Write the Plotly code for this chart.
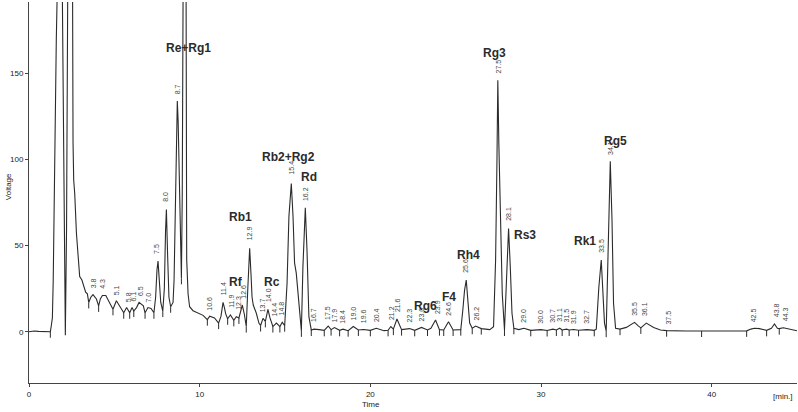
import plotly.graph_objects as go

# ---- chromatogram trace ----
time_min = [0.00, 0.30, 0.55, 0.80, 1.20, 1.25, 1.30, 1.37, 1.42, 1.50, 1.60, 1.66, 1.80, 1.95, 2.02, 2.09, 2.13,
            2.20, 2.27, 2.40, 2.52, 2.58, 2.62, 2.68, 2.78, 2.87, 2.97, 3.10, 3.22, 3.32, 3.42, 3.50, 3.62, 3.75,
            3.95, 4.08, 4.18, 4.30, 4.50, 4.72, 4.92, 5.12, 5.32, 5.55, 5.72, 5.90, 6.04, 6.14, 6.30, 6.45, 6.70,
            6.80, 6.97, 7.15, 7.32, 7.42, 7.50, 7.56, 7.62, 7.72, 7.84, 7.93, 8.00, 8.05, 8.12, 8.20, 8.30, 8.44,
            8.50, 8.58, 8.65, 8.69, 8.74, 8.80, 8.87, 8.93, 8.98, 9.03, 9.11, 9.19, 9.24, 9.32, 9.41, 9.61, 9.90,
            10.20, 10.45, 10.59, 10.87, 11.11, 11.25, 11.37, 11.45, 11.52, 11.64, 11.80, 12.00, 12.15, 12.30, 12.50,
            12.62, 12.73, 12.82, 12.93, 13.00, 13.07, 13.14, 13.32, 13.47, 13.57, 13.71, 13.85, 14.00, 14.12, 14.29,
            14.50, 14.70, 14.84, 14.98, 15.12, 15.23, 15.37, 15.47, 15.56, 15.66, 15.82, 15.96, 16.05, 16.19, 16.29,
            16.40, 16.54, 16.70, 17.00, 17.30, 17.53, 17.70, 17.90, 18.20, 18.40, 18.70, 19.00, 19.30, 19.60, 20.00,
            20.35, 20.80, 21.04, 21.20, 21.35, 21.56, 21.83, 22.30, 22.60, 23.00, 23.35, 23.55, 23.82, 24.05, 24.30,
            24.58, 24.85, 25.30, 25.42, 25.52, 25.62, 25.72, 25.82, 25.97, 26.17, 26.50, 27.00, 27.22, 27.34, 27.42,
            27.47, 27.53, 27.62, 27.73, 27.86, 27.97, 28.10, 28.20, 28.30, 28.41, 28.70, 29.00, 29.40, 30.00, 30.36,
            30.70, 30.90, 31.10, 31.24, 31.50, 31.65, 31.90, 32.20, 32.70, 33.12, 33.24, 33.39, 33.53, 33.63, 33.72,
            33.82, 33.92, 34.06, 34.16, 34.25, 34.37, 34.63, 35.00, 35.25, 35.48, 35.68, 35.85, 36.17, 36.60, 37.00,
            37.36, 38.50, 39.41, 41.00, 42.05, 42.30, 42.51, 42.80, 43.22, 43.50, 43.68, 43.85, 43.96, 44.20, 44.55,
            45.00]
voltage = [0.0, 0.4, 0.2, 0.0, 0.0, 0.0, 3, 8, 30, 100, 170, 200, 600, 200, 100, 20, -2,
           60, 200, 700, 200, 110, 88, 80, 57, 42, 32, 30, 26, 23, 22, 17, 20, 21.5,
           19, 15, 19, 21, 21, 17, 13, 18, 15, 11, 14, 11, 14, 12, 14, 17, 15,
           11, 14, 13.5, 11, 20, 36, 41, 32, 17, 12, 25, 58, 71, 45, 20, 14.5, 17,
           30, 75, 125, 134, 122, 85, 45, 31, 80, 200, 600, 200, 42, 22, 14.5, 12.2, 11,
           9.5, 7, 9, 8, 5, 9, 17, 14, 10.5, 7.5, 9.7, 6.6, 8.7, 8, 15.5,
           10, 3, 25, 48.5, 35, 20, 15.5, 10.7, 5, 3.6, 7.7, 6, 13, 8, 3,
           5, 3, 5.5, 3.5, 28, 67, 86, 67, 40, 34, 18.4, 0.5, 37.7, 72, 47,
           8.7, 1, 1.5, 1.2, 0.8, 3.3, 1.2, 2.4, 0.8, 1.5, 0.6, 3, 1, 1.3, 0.8,
           2, 0.6, 0.8, 3, 1.5, 7.4, 1.2, 1.8, 0.8, 2.5, 1, 2, 6.8, 1.2, 1,
           5.8, 1, 1.2, 12.6, 24, 30, 18.4, 5, 2, 3.3, 1.8, 1.2, 2.9, 41.6, 99.7,
           146, 109, 61, 22, 1, 32, 60, 37.7, 10.7, 2, 1.2, 2, 0.8, 1.2, 0.7,
           1.5, 1, 2, 1, 1.5, 1, 1.3, 0.8, 1.2, 0.8, 1.5, 26, 41.6, 22, 5,
           0.3, 45.7, 99, 65, 16.5, 2, 1.5, 2.5, 4, 5.4, 3.5, 2.2, 5, 2.5, 1,
           0.6, 0.4, 0.4, 0.4, 0.5, 1.5, 2, 1.8, 0.8, 2, 4.5, 2, 1.8, 2.3, 1.5,
           0.5]

# ---- integration boundary marks ----
mark_time = [1.25, 3.50, 4.08, 4.92, 5.55, 5.90, 6.14, 6.80, 7.32, 7.84, 8.30, 8.93, 10.45, 11.11, 11.64, 12.00,
             12.30, 12.73, 13.57, 13.85, 14.29, 14.70, 14.98, 15.96, 16.54, 17.30, 17.70, 18.20, 18.70, 19.30,
             20.00, 21.04, 21.35, 21.83, 22.60, 23.35, 24.05, 24.30, 24.85, 25.30, 25.97, 26.50, 27.86, 28.41,
             29.40, 30.36, 30.90, 31.24, 31.65, 32.20, 33.12, 33.82, 34.63, 35.85, 37.36, 39.41, 42.05, 43.22, 43.96]
mark_level = [0, 17, 15, 13, 11, 11, 12, 11, 11, 12, 14.5, 31, 7, 5, 7.5, 6.6,
              8, 3, 3.6, 6, 3, 3, 3.5, 0.5, 1, 0.8, 1.2, 0.8, 0.6, 1,
              0.8, 0.8, 1.5, 1.2, 0.8, 1, 1.2, 1, 1, 1.2, 2, 1.8, 1, 2,
              0.8, 0.7, 1, 1, 1, 0.8, 0.8, 0.3, 1.5, 2.2, 0.6, 0.4, 0.5, 0.8, 1.8]

# ---- retention-time labels ----
rt_labels = ["3.8", "4.3", "5.1", "5.8", "6.1", "6.5", "7.0", "7.5", "8.0", "8.7", "10.6", "11.4", "11.9", "12.3",
             "12.6", "12.9", "13.7", "14.0", "14.4", "14.8", "15.4", "16.2", "16.7", "17.5", "17.9", "18.4", "19.0",
             "19.6", "20.4", "21.2", "21.6", "22.3", "23.0", "23.9", "24.6", "25.6", "26.2", "27.5", "28.1", "29.0",
             "30.0", "30.7", "31.1", "31.5", "31.9", "32.7", "33.5", "34.1", "35.5", "36.1", "37.5", "42.5", "43.8",
             "44.3"]
rt_label_level = [24, 24, 20, 16, 16.5, 19.5, 16, 44, 74, 137, 11, 20, 12.5, 11.5,
                  18, 52, 10, 16, 7.5, 8, 90, 75, 4.5, 5.5, 4.5, 3.5, 5.5,
                  3.5, 4.5, 5.5, 10, 4, 4.5, 9, 8, 33, 5.5, 149, 63, 4,
                  3.5, 4, 4.5, 4, 3.5, 3.5, 44.5, 101.5, 8, 8, 3, 4.5, 7,
                  5]

# ---- compound names ----
compound_names = ["Re+Rg1", "Rb1", "Rf", "Rc", "Rb2+Rg2", "Rd", "Rg6", "F4", "Rh4", "Rg3", "Rs3", "Rk1", "Rg5"]
compound_time = [9.37, 12.40, 12.10, 14.24, 15.23, 16.42, 23.25, 24.61, 25.74, 27.25, 29.09, 32.59, 34.35]
compound_level = [164.6, 66.4, 29.0, 29.0, 101.6, 90.0, 14.9, 20.0, 44.5, 161.7, 56.2, 52.9, 110.9]

x_ticks = [0, 10, 20, 30, 40]
y_ticks = [0, 50, 100, 150]

TICK_LEN = 3.5
FONT = "Liberation Sans, Arial, sans-serif"

fig = go.Figure()
fig.add_trace(go.Scatter(x=time_min, y=voltage, mode="lines",
                         line=dict(color="#2b2b2b", width=1.1), hoverinfo="skip"))

mx, my = [], []
for t, v in zip(mark_time, mark_level):
    mx += [t, t, None]
    my += [v, v - TICK_LEN, None]
fig.add_trace(go.Scatter(x=mx, y=my, mode="lines", line=dict(color="#2b2b2b", width=1), hoverinfo="skip"))

ann = []
for lab, lv in zip(rt_labels, rt_label_level):
    ann.append(dict(x=float(lab), y=lv, xref="x", yref="y", text=lab, showarrow=False, textangle=-90,
                    xanchor="center", yanchor="bottom", font=dict(family=FONT, size=7, color="#444")))
for name, t, v in zip(compound_names, compound_time, compound_level):
    ann.append(dict(x=t, y=v, xref="x", yref="y", text="<b>" + name + "</b>", showarrow=False,
                    xanchor="center", yanchor="middle", font=dict(family=FONT, size=12, color="#2b2b2b")))
ann.append(dict(x=-0.0273, y=0.514, xref="paper", yref="paper", text="Voltage", showarrow=False, textangle=-90,
                xanchor="center", yanchor="middle", font=dict(family=FONT, size=8, color="#222")))
ann.append(dict(x=0.445, y=-0.0577, xref="paper", yref="paper", text="Time", showarrow=False,
                xanchor="center", yanchor="middle", font=dict(family=FONT, size=8, color="#222")))
ann.append(dict(x=0.982, y=-0.0367, xref="paper", yref="paper", text="[min.]", showarrow=False,
                xanchor="center", yanchor="middle", font=dict(family=FONT, size=8, color="#222")))

axis_common = dict(showline=True, linecolor="#444", linewidth=1, ticks="outside", ticklen=3, tickcolor="#444",
                   showgrid=False, zeroline=False, tickfont=dict(family=FONT, size=8, color="#222"))
fig.update_layout(
    width=798, height=412, margin=dict(l=29, r=1, t=2, b=29),
    paper_bgcolor="white", plot_bgcolor="white", showlegend=False,
    xaxis=dict(range=[0, 45], tickvals=x_ticks, **axis_common),
    yaxis=dict(range=[-29.8, 191.5], tickvals=y_ticks, **axis_common),
    annotations=ann,
)
fig.write_html("out.html", config={"displayModeBar": False, "staticPlot": True},
               post_script="document.body.style.margin='0';document.body.style.overflow='hidden';")
